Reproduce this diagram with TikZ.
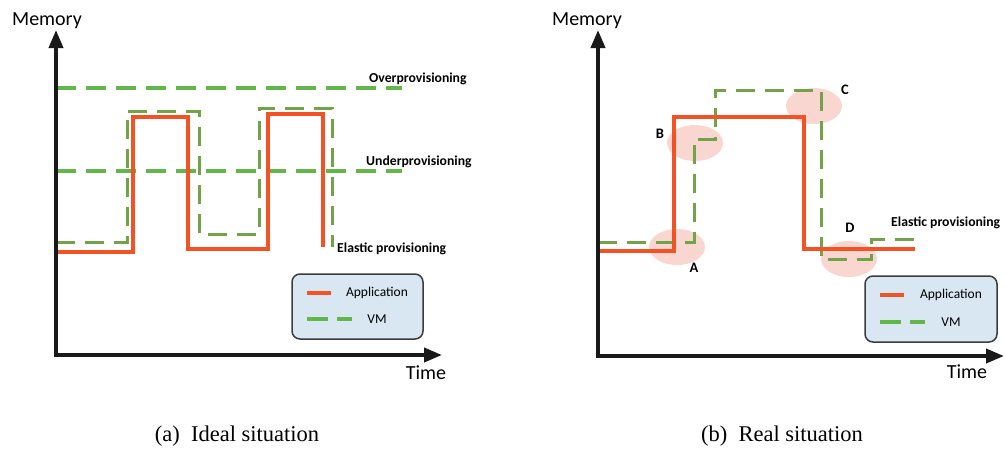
\documentclass[tikz,border=0pt]{standalone}
\usepackage{fontspec}
\setmainfont{Carlito}
\newfontfamily\capfont{Liberation Serif}
\usetikzlibrary{arrows.meta}
\definecolor{appred}{RGB}{242,82,36}
\definecolor{vmgreen}{RGB}{114,163,72}
\definecolor{lgreen}{RGB}{98,182,74}
\definecolor{hilite}{RGB}{250,214,208}
\definecolor{legfill}{RGB}{216,231,241}
\definecolor{legdraw}{RGB}{60,60,60}
\tikzset{
  axisline/.style={line width=3.8pt,{Triangle[length=18pt,width=14pt]}-{Triangle[length=18pt,width=14pt]},line join=miter,black!90},
  appline/.style={line width=3.4pt,appred,line join=miter},
  vmline/.style={line width=3pt,vmgreen,dash pattern=on 19pt off 10pt,line join=miter},
  provline/.style={line width=3.4pt,lgreen,dash pattern=on 20pt off 10pt},
  legbox/.style={draw=legdraw,fill=legfill,line width=1.5pt,rounded corners=8pt},
  axlabel/.style={font=\fontsize{20}{22}\selectfont,inner sep=0pt},
  boldlabel/.style={font=\fontsize{13.7}{15}\selectfont\bfseries,inner sep=0pt},
  letter/.style={font=\fontsize{14.5}{16}\selectfont\bfseries,inner sep=0pt},
  legtext/.style={font=\fontsize{13.5}{15}\selectfont,inner sep=0pt},
  caption/.style={font=\capfont\fontsize{22.5}{24}\selectfont,inner sep=0pt},
  spot/.style={fill=hilite,draw=none}
}
\begin{document}
\begin{tikzpicture}[x=1pt,y=-1pt]
\useasboundingbox (0,0) rectangle (1005,448);

% ================= (a) Ideal situation =================
\draw[provline] (56,88) -- (402,88);
\draw[provline] (56,171) -- (402,171);
\draw[vmline] (56,242) -- (127,242) -- (127,111) -- (199,111) -- (199,234) -- (259,234) -- (259,108) -- (332,108) -- (332,247);
\draw[appline] (56,252) -- (133,252) -- (133,117) -- (188,117) -- (188,249) -- (268,249) -- (268,114) -- (323,114) -- (323,247);
\draw[axisline] (56,30) -- (56,355) -- (442,355);

\node[axlabel] (memA) at (47,21) {Memory};
\node[axlabel] (timeA) at (426,373) {Time};
\node[boldlabel,anchor=west] (over) at (369,79) {Overprovisioning};
\node[boldlabel,anchor=west] (under) at (366,162) {Underprovisioning};
\node[boldlabel,anchor=west] (elasA) at (337,249) {Elastic provisioning};

\draw[legbox] (292,274) rectangle (423,339);
\draw[appline] (307,293) -- (331,293);
\draw[provline,dash pattern=on 21pt off 9pt] (307,319) -- (352,319);
\node[legtext] (appA) at (377,293) {Application};
\node[legtext] (vmA) at (377,319) {VM};

\node[caption] (capA) at (237,436) {(a)\enspace Ideal situation};

% ================= (b) Real situation =================
\fill[spot] (677,247) ellipse [x radius=28, y radius=18];
\fill[spot] (695,143) ellipse [x radius=28, y radius=18];
\fill[spot] (814,106) ellipse [x radius=28, y radius=18];
\fill[spot] (849,259) ellipse [x radius=28, y radius=18];

\draw[vmline] (598,242) -- (694,242) -- (694,139) -- (715,139) -- (715,90) -- (821,90) -- (821,259) -- (871,259) -- (871,239) -- (915,239);
\draw[appline] (598,251) -- (674,251) -- (674,117) -- (804,117) -- (804,249) -- (915,249);
\draw[axisline] (598,30) -- (598,356) -- (1004,356);

\node[axlabel] (memB) at (587,21) {Memory};
\node[axlabel] (timeB) at (967,372) {Time};
\node[letter] (lA) at (694,268) {A};
\node[letter] (lB) at (660,134) {B};
\node[letter] (lC) at (845,90) {C};
\node[letter] (lD) at (850,228) {D};
\node[boldlabel,anchor=west] (elasB) at (891,223) {Elastic provisioning};

\draw[legbox] (865,276) rectangle (997,342);
\draw[appline] (880,295) -- (904,295);
\draw[provline,dash pattern=on 21pt off 9pt] (880,322) -- (925,322);
\node[legtext] (appB) at (951,295) {Application};
\node[legtext] (vmB) at (951,322) {VM};

\node[caption] (capB) at (782,436) {(b)\enspace Real situation};
\end{tikzpicture}
\end{document}
